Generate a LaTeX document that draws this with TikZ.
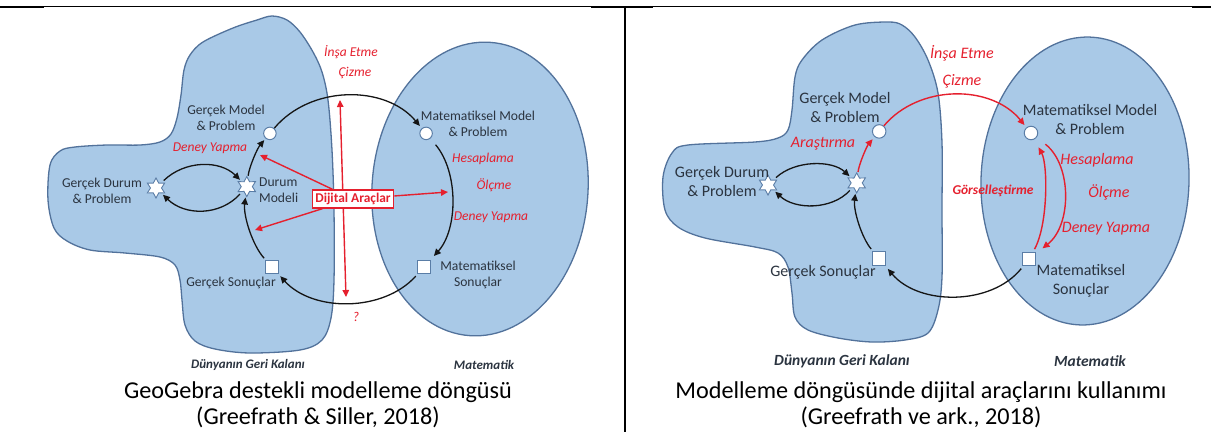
\documentclass[tikz,border=0pt]{standalone}
\usepackage{fontspec}
\setmainfont{Carlito}
\usetikzlibrary{shapes.geometric,arrows.meta}
\definecolor{blobfill}{HTML}{A9C9E7}
\definecolor{blobline}{HTML}{52729B}
\definecolor{nodeline}{HTML}{5A7DA6}
\definecolor{txtc}{HTML}{2B3440}
\definecolor{redc}{HTML}{E5202E}
\definecolor{blkc}{HTML}{151515}
\begin{document}
\begin{tikzpicture}[x=1pt,y=-1pt,
 blob/.style={fill=blobfill,draw=blobline,line width=1.3pt},
 cnode/.style={circle,draw=nodeline,fill=white,line width=1pt,minimum size=12.5pt,inner sep=0pt},
 snode/.style={rectangle,draw=nodeline,fill=white,line width=1pt,minimum size=12.5pt,inner sep=0pt},
 stnode/.style={star,star points=6,star point ratio=1.8,draw=nodeline,fill=white,line width=0.9pt,minimum size=20pt,inner sep=0pt},
 lblL/.style={text=txtc,font=\fontsize{13.6}{16.3}\selectfont,align=center,inner sep=0pt},
 lblR/.style={text=txtc,font=\fontsize{16}{19}\selectfont,align=center,inner sep=0pt},
 redL/.style={text=redc,font=\fontsize{13.5}{16}\selectfont\itshape,inner sep=0pt},
 redR/.style={text=redc,font=\fontsize{16}{19}\selectfont\itshape,inner sep=0pt},
 worldL/.style={text=txtc,font=\fontsize{13}{15}\selectfont\bfseries\itshape,inner sep=0pt},
 worldR/.style={text=txtc,font=\fontsize{15.5}{18}\selectfont\bfseries\itshape,inner sep=0pt},
 blkarr/.style={draw=blkc,line width=1.3pt,-{Triangle[length=7pt,width=6.5pt]}},
 redarr/.style={draw=redc,line width=1.4pt,-{Triangle[length=7pt,width=6.5pt]}},
 redboth/.style={draw=redc,line width=1.4pt,{Triangle[length=7pt,width=6.5pt]}-{Triangle[length=7pt,width=6.5pt]}},
 captxt/.style={font=\fontsize{24.2}{26}\selectfont,inner sep=0pt,anchor=base},
]
\useasboundingbox (0,0) rectangle (1211,432);
% frame lines
\draw[line width=1pt] (0,6) -- (1211,6);
\draw[line width=2.5pt] (0,6.8) -- (44,6.8);
\draw[line width=2.5pt] (591,6.8) -- (653,6.8);
\draw[line width=2.5pt] (1192,6.8) -- (1211,6.8);
\draw[line width=2pt] (625,6) -- (625,432);

% ---------------- LEFT PANEL ----------------
\path[blob] plot[smooth cycle, tension=0.55] coordinates {
 (272,16) (287,20) (300,32) (313,52) (322,72) (328,100) (332,150) (334,210) (334,280) (331,318) (322,340) (300,350) (250,353) (215,349) (195,341) (185,325) (182,300) (180,280) (175,265) (160,257) (125,253) (90,250) (67,241) (54,228) (48,200) (50,165) (60,151) (75,147) (107,145) (140,145) (160,142) (171,134) (177,118) (181,95) (184,70) (190,55) (203,42) (233,28) (257,20)};
\path[blob, rotate around={-4:(480,189)}] (480,189) ellipse [x radius=108, y radius=147];

\node[cnode] (gm) at (269.9,133.4) {};
\node[cnode] (mm) at (426.1,133.4) {};
\node[snode] (ms) at (423.8,267.2) {};
\node[snode] (gs) at (272.2,267.2) {};
\node[stnode] (dm) at (246.8,186.6) {};
\node[stnode] (gd) at (156,188) {};

\coordinate (vt) at (340,100);
\coordinate (vb) at (346,297);
\coordinate (r1) at (260,155);
\coordinate (r2) at (255,230);
\coordinate (r3) at (448,192);

\draw[blkarr, shorten >=3pt] (gm) .. controls (310.7,84.8) and (385.3,84.8) .. (mm);
\draw[blkarr, shorten <=8pt, shorten >=6pt] (mm) .. controls (458.8,172.4) and (457.9,229.4) .. (ms);
\draw[blkarr, shorten <=3pt, shorten >=3pt] (ms) .. controls (383.3,312.2) and (312.7,312.2) .. (gs);
\draw[blkarr, shorten <=3pt, shorten >=2pt] (gs) .. controls (252.5,245.3) and (243.2,215.9) .. (dm);
\draw[blkarr, shorten <=2pt, shorten >=2pt] (dm) .. controls (249.2,167.0) and (257.2,148.5) .. (gm);
\draw[blkarr, shorten <=3pt, shorten >=2pt] (gd) .. controls (185,160) and (220,160) .. (dm);
\draw[blkarr, shorten <=3pt, shorten >=2pt] (dm) .. controls (220,216) and (185,216) .. (gd);

\draw[redboth] (vb) -- (vt);
\node[draw=redc, fill=white, line width=1.3pt, text=redc, font=\fontsize{13.4}{16}\selectfont\bfseries, inner xsep=3pt, inner ysep=1pt, minimum height=18pt] (da) at (353,199) {Dijital Araçlar};
\draw[redarr] (da) -- (r1);
\draw[redarr] (da) -- (r2);
\draw[redarr] (da) -- (r3);

\node[lblL] (tgm) at (226,118) {Gerçek Model\\\& Problem};
\node[lblL] (tmm) at (478,124) {Matematiksel Model\\\& Problem};
\node[lblL] (tgd) at (102,191) {Gerçek Durum\\\& Problem};
\node[lblL, align=left, anchor=west] (tdm) at (259,190) {Durum\\Modeli};
\node[lblL] (tgs) at (231,283) {Gerçek Sonuçlar};
\node[lblL] (tms) at (478,275) {Matematiksel\\Sonuçlar};
\node[worldL] (wl) at (248,365) {Dünyanın Geri Kalanı};
\node[worldL] (ml) at (484,365) {Matematik};

\node[redL] (l1) at (351,52) {İnşa Etme};
\node[redL] (l2) at (355,73) {Çizme};
\node[redL] (l3) at (210,148) {Deney Yapma};
\node[redL] (l4) at (483,159) {Hesaplama};
\node[redL] (l5) at (494,185) {Ölçme};
\node[redL] (l6) at (491,217) {Deney Yapma};
\node[redL] (l7) at (356,317) {?};

\node[captxt] (c1) at (318,398) {GeoGebra destekli modelleme döngüsü};
\node[captxt] (c2) at (318,424) {(Greefrath \& Siller, 2018)};

% ---------------- RIGHT PANEL ----------------
\path[blob] plot[smooth cycle, tension=0.55] coordinates {
 (888,22) (902,25) (915,37) (928,60) (938,93) (942,143) (942,210) (942,277) (938,310) (928,333) (905,340) (872,342) (838,338) (808,330) (795,317) (792,293) (788,267) (778,253) (755,247) (705,238) (678,227) (665,210) (663,177) (672,153) (688,145) (755,142) (778,138) (788,130) (792,110) (795,77) (802,60) (822,40) (855,25)};
\path[blob, rotate around={-2:(1085,181)}] (1085,181) ellipse [x radius=104, y radius=144];

\node[cnode, minimum size=13.5pt] (gm2) at (879.2,131.4) {};
\node[cnode, minimum size=13.5pt] (mm2) at (1031,133) {};
\node[snode, minimum size=13.5pt] (ms2) at (1029,259) {};
\node[snode, minimum size=13.5pt] (gs2) at (879.2,258.6) {};
\node[stnode] (st2) at (856.7,182.9) {};
\node[stnode] (gd2) at (768,185) {};

\draw[blkarr, shorten <=3pt, shorten >=2pt] (gs2) .. controls (861.5,237.5) and (853.3,210.2) .. (st2);
\draw[redarr, shorten <=2pt, shorten >=3pt] (st2) .. controls (859.0,163.9) and (866.9,146.0) .. (gm2);
\draw[redarr, shorten >=3pt] (gm2) .. controls (918.8,84.2) and (991.2,84.2) .. (mm2);
\draw[redarr, shorten <=11pt, shorten >=8pt] (mm2) .. controls (1072,165) and (1072,225) .. (ms2);
\draw[redarr, shorten <=3pt, shorten >=9pt] (ms2) .. controls (1048,225) and (1048,165) .. (mm2);
\draw[blkarr, shorten <=3pt, shorten >=4pt] (ms2) .. controls (991.2,305.8) and (918.8,305.8) .. (gs2);
\draw[blkarr, shorten <=3pt, shorten >=2pt] (gd2) .. controls (795,160) and (832,160) .. (st2);
\draw[blkarr, shorten <=3pt, shorten >=2pt] (st2) .. controls (832,210) and (795,210) .. (gd2);

\node[lblR] (tgm2) at (845,107) {Gerçek Model\\\& Problem};
\node[lblR] (tmm2) at (1090,119) {Matematiksel Model\\\& Problem};
\node[lblR] (tgd2) at (722,181) {Gerçek Durum\\\& Problem};
\node[lblR] (tgs2) at (823,272) {Gerçek Sonuçlar};
\node[lblR] (tms2) at (1081,281) {Matematiksel\\Sonuçlar};
\node[worldR] (wl2) at (842,361) {Dünyanın Geri Kalanı};
\node[worldR] (ml2) at (1090,361) {Matematik};

\node[redR] (m1) at (962,53) {İnşa Etme};
\node[redR] (m2) at (962,81) {Çizme};
\node[redR] (m3) at (823,144) {Araştırma};
\node[redR] (m4) at (1097,160) {Hesaplama};
\node[redR] (m5) at (1109,192) {Ölçme};
\node[redR] (m6) at (1106,229) {Deney Yapma};
\node[text=redc, font=\fontsize{13.5}{16}\selectfont\bfseries\itshape, inner sep=0pt] (m7) at (993,191) {Görselleştirme};

\node[captxt] (d1) at (921,398) {Modelleme döngüsünde dijital araçlarını kullanımı};
\node[captxt] (d2) at (921,424) {(Greefrath ve ark., 2018)};
\end{tikzpicture}
\end{document}
